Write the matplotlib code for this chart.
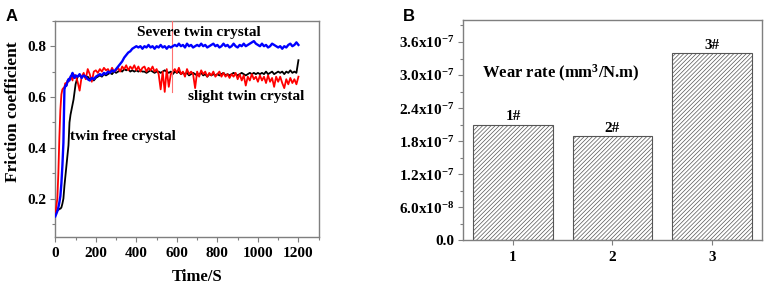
import numpy as np
import matplotlib
matplotlib.use("Agg")
import matplotlib.pyplot as plt
from matplotlib.ticker import MultipleLocator, FixedLocator

plt.rcParams['font.family'] = ['Liberation Serif', 'DejaVu Serif']
plt.rcParams['font.weight'] = 'bold'
plt.rcParams['mathtext.fontset'] = 'custom'
plt.rcParams['mathtext.rm'] = 'Liberation Serif:bold'
plt.rcParams['mathtext.it'] = 'Liberation Serif:bold'
plt.rcParams['mathtext.bf'] = 'Liberation Serif:bold'
plt.rcParams['mathtext.default'] = 'rm'
plt.rcParams['hatch.linewidth'] = 0.5

# ---------------- Panel A data ----------------
time_s = np.concatenate([np.arange(0, 101, 5), np.arange(110, 1201, 10)])

blue_severe = [
    0.13, 0.14, 0.15, 0.165, 0.185, 0.21, 0.26, 0.33, 0.42, 0.63, 0.645,
    0.645, 0.66, 0.67, 0.665, 0.68, 0.685, 0.695, 0.68, 0.675, 0.685,
    0.68, 0.69, 0.675, 0.685, 0.68, 0.67, 0.665, 0.675, 0.67, 0.68,
    0.685, 0.69, 0.685, 0.695, 0.69, 0.70, 0.695, 0.705, 0.70, 0.71,
    0.72, 0.73, 0.74, 0.755, 0.765, 0.775, 0.78, 0.79, 0.795, 0.80,
    0.795, 0.80, 0.79, 0.80, 0.795, 0.805, 0.795, 0.80, 0.79, 0.80,
    0.795, 0.805, 0.795, 0.80, 0.79, 0.80, 0.795, 0.80, 0.805, 0.80,
    0.81, 0.80, 0.805, 0.795, 0.81, 0.80, 0.805, 0.795, 0.80, 0.805,
    0.80, 0.81, 0.80, 0.805, 0.795, 0.80, 0.805, 0.81, 0.80, 0.805,
    0.795, 0.80, 0.81, 0.80, 0.805, 0.795, 0.80, 0.81, 0.80, 0.795,
    0.805, 0.80, 0.81, 0.80, 0.805, 0.81, 0.815, 0.82, 0.81, 0.805,
    0.80, 0.81, 0.80, 0.805, 0.795, 0.80, 0.81, 0.805, 0.80, 0.795,
    0.80, 0.79, 0.80, 0.795, 0.805, 0.81, 0.80, 0.805, 0.815, 0.805,
]

red_slight = [
    0.14, 0.17, 0.20, 0.30, 0.44, 0.55, 0.61, 0.63, 0.635, 0.64, 0.655,
    0.645, 0.665, 0.66, 0.675, 0.67, 0.685, 0.665, 0.69, 0.675, 0.685,
    0.66, 0.625, 0.68, 0.695, 0.67, 0.71, 0.69, 0.66, 0.70, 0.705,
    0.695, 0.71, 0.70, 0.715, 0.705, 0.71, 0.695, 0.715, 0.70, 0.705,
    0.715, 0.70, 0.72, 0.71, 0.725, 0.705, 0.72, 0.71, 0.725, 0.705,
    0.72, 0.70, 0.715, 0.72, 0.70, 0.715, 0.705, 0.72, 0.70, 0.71,
    0.69, 0.63, 0.70, 0.62, 0.71, 0.64, 0.69, 0.70, 0.71, 0.695,
    0.715, 0.69, 0.70, 0.68, 0.71, 0.69, 0.70, 0.69, 0.635, 0.70,
    0.68, 0.705, 0.69, 0.70, 0.68, 0.695, 0.685, 0.70, 0.68, 0.69,
    0.70, 0.68, 0.695, 0.68, 0.69, 0.675, 0.69, 0.68, 0.695, 0.67,
    0.69, 0.665, 0.685, 0.645, 0.68, 0.665, 0.69, 0.67, 0.68, 0.66,
    0.685, 0.665, 0.68, 0.655, 0.685, 0.66, 0.675, 0.64, 0.68, 0.66,
    0.68, 0.655, 0.635, 0.67, 0.65, 0.675, 0.655, 0.67, 0.65, 0.68,
]
red_spike_t = [575, 575]
red_spike_v = [0.62, 0.95]

black_free = [
    0.15, 0.15, 0.155, 0.155, 0.16, 0.16, 0.165, 0.18, 0.20, 0.25, 0.29,
    0.33, 0.37, 0.41, 0.50, 0.53, 0.55, 0.57, 0.59, 0.62, 0.65,
    0.68, 0.685, 0.68, 0.685, 0.675, 0.68, 0.67, 0.675, 0.665, 0.675,
    0.68, 0.685, 0.68, 0.69, 0.685, 0.69, 0.695, 0.69, 0.70, 0.695,
    0.70, 0.705, 0.70, 0.71, 0.705, 0.71, 0.70, 0.705, 0.70, 0.705,
    0.70, 0.705, 0.70, 0.70, 0.695, 0.70, 0.705, 0.70, 0.695, 0.70,
    0.70, 0.695, 0.70, 0.705, 0.70, 0.695, 0.70, 0.69, 0.70, 0.695,
    0.70, 0.69, 0.695, 0.69, 0.695, 0.685, 0.69, 0.695, 0.69, 0.685,
    0.69, 0.695, 0.685, 0.69, 0.68, 0.69, 0.685, 0.69, 0.685, 0.69,
    0.685, 0.69, 0.695, 0.685, 0.69, 0.685, 0.69, 0.695, 0.69, 0.685,
    0.69, 0.695, 0.69, 0.685, 0.69, 0.695, 0.69, 0.695, 0.69, 0.695,
    0.69, 0.695, 0.69, 0.70, 0.69, 0.695, 0.70, 0.69, 0.695, 0.70,
    0.695, 0.70, 0.69, 0.70, 0.695, 0.705, 0.695, 0.70, 0.695, 0.745,
]

# ---------------- Panel B data ----------------
samples = [1, 2, 3]
wear_rate = [2.1e-7, 1.9e-7, 3.4e-7]
bar_labels = ['1#', '2#', '3#']
b_yticks = [0, 6e-8, 1.2e-7, 1.8e-7, 2.4e-7, 3.0e-7, 3.6e-7]
b_yticklabels = ['0.0', '6.0x10$^{-8}$', '1.2x10$^{-7}$', '1.8x10$^{-7}$',
                 '2.4x10$^{-7}$', '3.0x10$^{-7}$', '3.6x10$^{-7}$']

fig = plt.figure(figsize=(7.65, 2.85), dpi=100)
spine_c = '#7f7f7f'

# ---------------- Panel A ----------------
axA = fig.add_axes([0.0723, 0.1695, 0.3443, 0.7575])
axA.plot(time_s, black_free, color='black', lw=1.3, zorder=2)
axA.plot(time_s, red_slight, color='#ff0000', lw=1.3, zorder=3)
axA.plot(red_spike_t, red_spike_v, color='#ff7070', lw=0.8, zorder=3)
axA.plot(time_s, blue_severe, color='#0000ff', lw=1.7, zorder=4)
axA.set_xlim(0, 1300)
axA.set_ylim(0.05, 0.9)
axA.xaxis.set_major_locator(FixedLocator([0, 200, 400, 600, 800, 1000, 1200]))
axA.xaxis.set_minor_locator(MultipleLocator(100))
axA.yaxis.set_major_locator(FixedLocator([0.2, 0.4, 0.6, 0.8]))
axA.yaxis.set_minor_locator(MultipleLocator(0.1))
axA.set_xlabel('Time/S', fontsize=12, fontweight='bold')
axA.xaxis.set_label_coords(0.538, -0.15)
axA.set_ylabel('Friction coefficient', fontsize=12.5, fontweight='bold')
axA.yaxis.set_label_coords(-0.13, 0.58)
axA.text(403, 0.852, 'Severe twin crystal', fontsize=11, fontweight='bold', va='center')
axA.text(654, 0.601, 'slight twin crystal', fontsize=11, fontweight='bold', va='center')
axA.text(72, 0.444, 'twin free crystal', fontsize=11, fontweight='bold', va='center')

# ---------------- Panel B ----------------
axB = fig.add_axes([0.6056, 0.157, 0.39, 0.773])
axB.bar(samples, wear_rate, width=0.8, color='white', edgecolor='#555555',
        hatch='////////', linewidth=0.8, zorder=2)
for xs, h, lab in zip(samples, wear_rate, bar_labels):
    axB.text(xs, h + 0.02e-7, lab, ha='center', va='bottom', fontsize=11,
             fontweight='bold')
axB.set_xlim(0.5, 3.5)
axB.set_ylim(0, 4.0e-7)
axB.set_xticks(samples)
axB.set_xticklabels([str(s) for s in samples])
axB.yaxis.set_major_locator(FixedLocator(b_yticks))
axB.set_yticklabels(b_yticklabels)
axB.yaxis.set_minor_locator(MultipleLocator(3e-8))
axB.text(0.687, 3.03e-7, 'Wear rate (mm$^3$/N.m)', fontsize=12, fontweight='bold',
         va='center')

for ax in (axA, axB):
    for sp in ax.spines.values():
        sp.set_color(spine_c)
        sp.set_linewidth(1.0)
    ax.tick_params(which='both', direction='out', color=spine_c, width=0.8)
    ax.tick_params(which='major', length=3.5, labelsize=11)
    ax.tick_params(axis='x', which='major', pad=4)
    ax.tick_params(axis='y', which='major', pad=3)
    ax.tick_params(which='minor', length=2)
    for lab in ax.get_xticklabels() + ax.get_yticklabels():
        lab.set_fontweight('bold')

fig.text(0.007, 0.97, 'A', fontsize=12, fontweight='bold', family='Liberation Sans',
         va='top')
fig.text(0.527, 0.97, 'B', fontsize=12, fontweight='bold', family='Liberation Sans',
         va='top')

fig.savefig('out.png', dpi=100)
